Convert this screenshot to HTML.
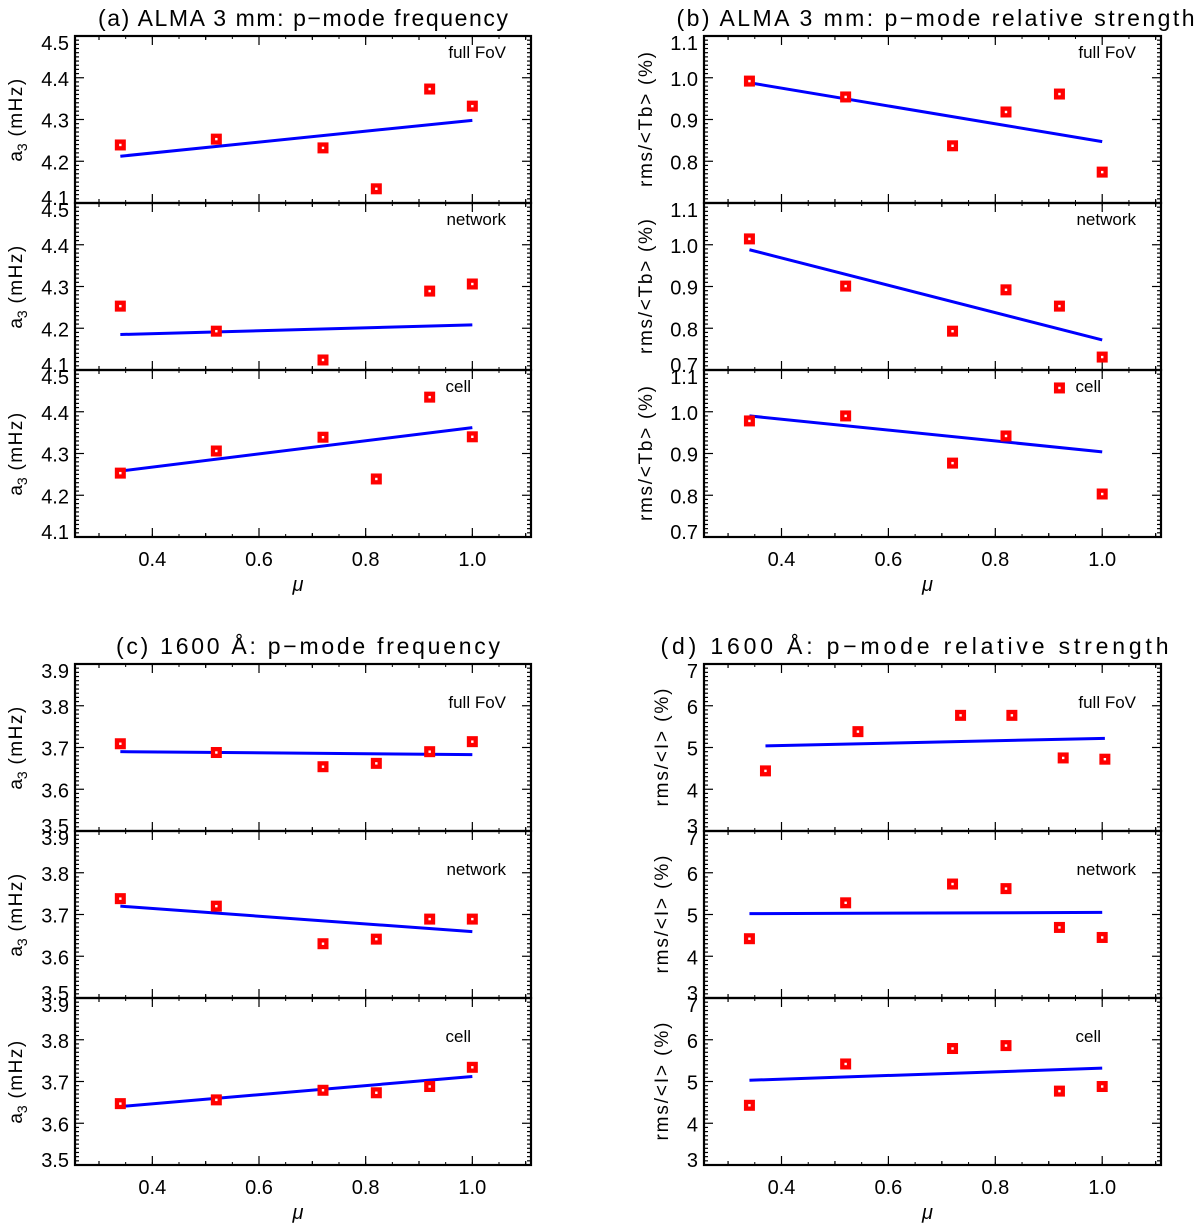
<!DOCTYPE html>
<html><head><meta charset="utf-8"><style>
html,body{margin:0;padding:0;background:#fff;}
svg{display:block;font-family:"Liberation Sans",sans-serif;}
</style></head><body>
<svg id="chart" width="1200" height="1225" viewBox="0 0 1200 1225" xmlns="http://www.w3.org/2000/svg"></svg>
<script>
const muX = [0.34,0.52,0.72,0.82,0.92,1.0];
const muXdFull = [0.37,0.543,0.735,0.831,0.927,1.005];
const muXaNet = [0.34,0.52,0.72,0.92,1.0];

const aFull = [4.239,4.253,4.232,4.134,4.373,4.332];
const aFullFit = [4.212,4.298];
const aNet = [4.253,4.193,4.124,4.289,4.306];
const aNetFit = [4.185,4.208];
const aCell = [4.253,4.306,4.339,4.239,4.435,4.34];
const aCellFit = [4.258,4.362];

const bFull = [0.992,0.954,0.837,0.918,0.961,0.774];
const bFullFit = [0.988,0.847];
const bNet = [1.014,0.901,0.793,0.892,0.853,0.731];
const bNetFit = [0.988,0.772];
const bCell = [0.978,0.990,0.877,0.942,1.057,0.803];
const bCellFit = [0.99,0.904];

const cFull = [3.709,3.688,3.654,3.662,3.690,3.714];
const cFullFit = [3.690,3.683];
const cNet = [3.738,3.720,3.630,3.641,3.689,3.689];
const cNetFit = [3.720,3.659];
const cCell = [3.647,3.656,3.679,3.673,3.688,3.734];
const cCellFit = [3.640,3.712];

const dFull = [4.44,5.38,5.77,5.77,4.75,4.72];
const dFullFit = [5.04,5.22];
const dNet = [4.42,5.28,5.73,5.62,4.69,4.45];
const dNetFit = [5.02,5.05];
const dCell = [4.43,5.42,5.79,5.86,4.77,4.88];
const dCellFit = [5.03,5.32];

const xTicks = [0.4,0.6,0.8,1.0];
const xTickLabels = ["0.4","0.6","0.8","1.0"];
const aTicks = ["4.1","4.2","4.3","4.4","4.5"];
const bTicks = ["0.7","0.8","0.9","1.0","1.1"];
const cTicks = ["3.5","3.6","3.7","3.8","3.9"];
const dTicks = ["3","4","5","6","7"];
const regionLabels = ["full FoV","network","cell"];

const NS="http://www.w3.org/2000/svg";
const svg=document.getElementById('chart');
function mk(tag,attrs,parent){const e=document.createElementNS(NS,tag);for(const k in attrs)e.setAttribute(k,attrs[k]);(parent||svg).appendChild(e);return e;}

const XMIN=0.255, XMAX=1.11;

function panel(cfg){
  const g=mk('g',{});
  
  
  const L=cfg.left,R=cfg.right,W=R-L;
  const xs=v=>L+(v-XMIN)/(XMAX-XMIN)*W;
  const t=mk('text',{x:(L+R)/2+cfg.titleDx,y:cfg.top-10,'text-anchor':'middle','font-size':23,textLength:cfg.titleLen,lengthAdjust:'spacing',fill:'#000'},g);
  t.textContent=cfg.title;
  
  
  cfg.subs.forEach((s,i)=>{
    const T=cfg.top+i*167,B=T+167;
    const ys=v=>B-(v-cfg.ymin)/(cfg.ymax-cfg.ymin)*167;
    const sg=mk('g',{},g);
    
    
    const nMinor=cfg.minorN;
    for(let k=0;k<=nMinor;k++){
      const y=B-k*167/nMinor;
      const major=(k%(nMinor/4)===0);
      const len=major?9:4;
      mk('line',{x1:L,x2:L+len,y1:y,y2:y,stroke:'#000','stroke-width':1.2},sg);
      mk('line',{x1:R,x2:R-len,y1:y,y2:y,stroke:'#000','stroke-width':1.2},sg);
    }
    for(let v=0.3;v<=1.101;v+=0.1){
      const x=xs(v);const major=Math.abs(Math.round(v*10)%2)===0;
      const len=major?9:4;
      mk('line',{x1:x,x2:x,y1:B,y2:B-len,stroke:'#000','stroke-width':1.2},sg);
      mk('line',{x1:x,x2:x,y1:T,y2:T+len,stroke:'#000','stroke-width':1.2},sg);
    }
    for(let v=0.3;v<=1.101;v+=0.05){
      const x=xs(v);
      mk('line',{x1:x,x2:x,y1:B,y2:B-3,stroke:'#000','stroke-width':1},sg);
      mk('line',{x1:x,x2:x,y1:T,y2:T+3,stroke:'#000','stroke-width':1},sg);
    }
    mk('rect',{x:L,y:T,width:W,height:167,fill:'none',stroke:'#000','stroke-width':2.2},sg);
    cfg.ticks.forEach((lab,k)=>{
      if(i===0&&k===0&&cfg.hideFirst)return;
      const y=B-k*167/4;
      const dy=(k===0)?2:(k===4?14:8);
      const tl=mk('text',{x:L-6,y:y+dy,'text-anchor':'end','font-size':20,fill:'#000'},sg);
      tl.textContent=lab;
      
      
    });
    const cy=(T+B)/2, tx=cfg.ytitleX;
    const yt=mk('text',{x:tx,y:cy,'text-anchor':'middle','font-size':19,transform:`rotate(-90 ${tx} ${cy})`,fill:'#000'},sg);
    
    
    if(cfg.yIsA){
      yt.innerHTML='a<tspan font-size="14" dy="5">3</tspan><tspan dy="-5" letter-spacing="1.5">  (mHz)</tspan>';
    } else {
      yt.textContent=cfg.ytitle;
      yt.setAttribute('textLength',cfg.ytitleLen);
      yt.setAttribute('lengthAdjust','spacing');
    }
    const rl=mk('text',{x:(i===2?R-60:R-25),y:T+cfg.labOff,'text-anchor':'end','font-size':17,fill:'#000'},sg);
    rl.textContent=regionLabels[i];
    
    
    const fx=s.fitX||[0.34,1.0];
    const fl=mk('line',{x1:xs(fx[0]),y1:ys(s.fit[0]),x2:xs(fx[1]),y2:ys(s.fit[1]),stroke:'#0000ff','stroke-width':3},sg);
    
    
    s.vals.forEach((v,j)=>{
      const x=xs(s.xs[j]),y=ys(v);
      const p=mk('rect',{x:x-5.5,y:y-5.5,width:11,height:11,fill:'#ff0000'},sg);
      
      
      mk('rect',{x:x-1.2,y:y-1.2,width:2.4,height:2.4,fill:'#fff'},sg);
    });
  });
  const bot=cfg.top+501;
  xTicks.forEach((v,k)=>{
    const tl=mk('text',{x:xs(v),y:bot+29,'text-anchor':'middle','font-size':20,fill:'#000'},g);
    tl.textContent=xTickLabels[k];
    
    
  });
  const xt=mk('text',{x:(L+R)/2-5,y:bot+54,'text-anchor':'middle','font-size':20,'font-style':'italic',fill:'#000'},g);
  xt.textContent='μ';
  
  
}

panel({name:'panel-a',left:75,right:531,top:36,ymin:4.1,ymax:4.5,ticks:aTicks,minorN:40,yIsA:true,ytitleX:22,
  title:'(a) ALMA 3 mm: p−mode frequency',titleDx:0,titleLen:410,labOff:22,hideFirst:false,
  subs:[{key:'full-fov',xs:muX,vals:aFull,fit:aFullFit},{key:'network',xs:muXaNet,vals:aNet,fit:aNetFit},{key:'cell',xs:muX,vals:aCell,fit:aCellFit}]});
panel({name:'panel-b',left:704,right:1161,top:36,ymin:0.7,ymax:1.1,ticks:bTicks,minorN:40,ytitleX:652,ytitle:'rms/<Tb> (%)',ytitleLen:135,
  title:'(b) ALMA 3 mm: p−mode relative strength',titleDx:3,titleLen:518,labOff:22,hideFirst:true,
  subs:[{key:'full-fov',xs:muX,vals:bFull,fit:bFullFit},{key:'network',xs:muX,vals:bNet,fit:bNetFit},{key:'cell',xs:muX,vals:bCell,fit:bCellFit}]});
panel({name:'panel-c',left:75,right:531,top:664,ymin:3.5,ymax:3.9,ticks:cTicks,minorN:40,yIsA:true,ytitleX:22,
  title:'(c) 1600 Å: p−mode frequency',titleDx:5,titleLen:384,labOff:44,hideFirst:false,
  subs:[{key:'full-fov',xs:muX,vals:cFull,fit:cFullFit},{key:'network',xs:muX,vals:cNet,fit:cNetFit},{key:'cell',xs:muX,vals:cCell,fit:cCellFit}]});
panel({name:'panel-d',left:704,right:1161,top:664,ymin:3,ymax:7,ticks:dTicks,minorN:40,ytitleX:668,ytitle:'rms/<I> (%)',ytitleLen:118,
  title:'(d) 1600 Å: p−mode relative strength',titleDx:-18,titleLen:508,labOff:44,hideFirst:false,
  subs:[{key:'full-fov',xs:muXdFull,vals:dFull,fit:dFullFit,fitX:[0.37,1.005]},{key:'network',xs:muX,vals:dNet,fit:dNetFit},{key:'cell',xs:muX,vals:dCell,fit:dCellFit}]});
</script>
</body></html>
